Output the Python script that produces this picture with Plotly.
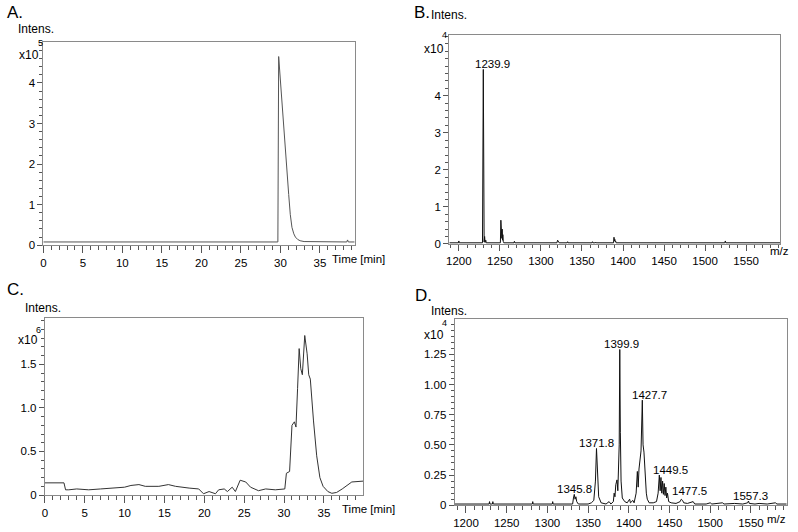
import plotly.graph_objects as go

W, H = 798, 532

# Panel A - chromatogram, intensity x10^5
a_time = [0.0, 29.68, 29.78, 30.0, 30.2, 30.4, 30.6, 30.8, 31.05, 31.25,
          31.46, 31.7, 31.9, 32.2, 32.5, 33.0, 36.0, 38.4, 38.5, 38.6, 39.4]
a_intens = [0.08, 0.08, 4.65, 4.02, 3.45, 2.96, 2.39, 1.82, 1.25, 0.76,
            0.44, 0.28, 0.20, 0.14, 0.11, 0.09, 0.08, 0.08, 0.13, 0.08, 0.08]

# Panel B - mass spectrum, intensity x10^4
b_mz = [1188.4, 1199.5, 1200.0, 1200.5, 1228.8, 1229.8, 1230.8, 1231.4, 1232.0,
        1232.8, 1233.4, 1250.6, 1251.2, 1251.6, 1252.0, 1252.4, 1252.8, 1253.2,
        1253.6, 1254.2, 1254.8, 1267.2, 1267.7, 1268.2, 1307.4, 1308.0, 1308.6,
        1319.5, 1320.3, 1321.0, 1321.6, 1322.2, 1332.0, 1332.5, 1333.0, 1358.2,
        1358.7, 1359.2, 1362.3, 1362.8, 1363.3, 1366.3, 1366.8, 1367.3, 1388.4,
        1389.0, 1389.6, 1390.1, 1390.6, 1391.1, 1391.6, 1455.2, 1455.8, 1456.4,
        1524.0, 1524.6, 1525.2, 1591.3]
b_intens = [0.03, 0.03, 0.08, 0.03, 0.03, 4.71, 0.05, 0.20, 0.04, 0.10,
            0.03, 0.03, 0.64, 0.20, 0.52, 0.15, 0.40, 0.10, 0.25, 0.06, 0.03,
            0.03, 0.07, 0.03, 0.03, 0.05, 0.03, 0.03, 0.10, 0.05, 0.07, 0.03,
            0.03, 0.06, 0.03, 0.03, 0.05, 0.03, 0.03, 0.06, 0.03, 0.03, 0.05,
            0.03, 0.03, 0.18, 0.08, 0.12, 0.05, 0.07, 0.03, 0.03, 0.05, 0.03,
            0.03, 0.08, 0.03, 0.03]
b_labels = ["1239.9"]
b_label_mz = [1229.8]
b_label_int = [4.71]

# Panel C - chromatogram, intensity x10^6
c_time = [0.0, 2.4, 2.6, 3.0, 4.0, 5.5, 7.0, 8.5, 10.0, 10.8, 11.8, 12.6,
          14.3, 15.5, 16.4, 18.1, 19.3, 19.9, 20.6, 21.4, 21.8, 22.5, 22.9,
          23.5, 23.9, 24.5, 25.2, 25.8, 26.8, 27.7, 28.9, 30.1, 30.3, 30.7,
          31.0, 31.3, 31.5, 31.7, 31.9, 32.1, 32.3, 32.6, 32.9, 33.1, 33.3,
          33.7, 34.1, 34.5, 34.9, 35.5, 36.0, 36.6, 37.3, 38.5, 39.95]
c_intens = [0.14, 0.14, 0.06, 0.06, 0.07, 0.06, 0.07, 0.08, 0.09, 0.11, 0.12, 0.10,
            0.10, 0.12, 0.10, 0.08, 0.07, 0.015, 0.04, 0.015, 0.06, 0.07, 0.04,
            0.09, 0.04, 0.17, 0.15, 0.09, 0.05, 0.07, 0.06, 0.07, 0.25, 0.27,
            0.80, 0.84, 0.78, 1.22, 1.68, 1.45, 1.38, 1.83, 1.62, 1.38, 1.33,
            0.85, 0.45, 0.20, 0.10, 0.04, 0.02, 0.03, 0.07, 0.15, 0.16]

# Panel D - mass spectrum, intensity x10^4
d_mz = [1186.0, 1228.4, 1228.9, 1229.4, 1232.5, 1233.0, 1233.5, 1281.5, 1282.0,
        1282.5, 1306.0, 1306.5, 1307.0, 1331.0, 1332.0, 1333.0, 1334.0, 1335.0,
        1336.0, 1338.0, 1350.0, 1354.0, 1357.0, 1359.0, 1360.3, 1361.5, 1363.0,
        1366.0, 1372.0, 1375.8, 1378.0, 1381.0, 1382.0, 1383.0, 1384.0, 1385.5,
        1386.5, 1388.2, 1388.9, 1389.6, 1390.5, 1392.0, 1395.0, 1398.0, 1401.0,
        1402.0, 1405.0, 1406.5, 1409.0, 1410.5, 1411.5, 1412.5, 1413.7, 1415.0,
        1416.6, 1417.5, 1418.6, 1419.6, 1420.6, 1421.5, 1422.7, 1425.0, 1430.0,
        1434.0, 1436.0, 1437.5, 1438.5, 1439.5, 1440.5, 1441.5, 1442.5, 1443.5,
        1444.5, 1445.5, 1446.5, 1447.5, 1449.0, 1452.0, 1458.0, 1463.0, 1464.5,
        1466.0, 1467.5, 1472.0, 1479.0, 1481.0, 1495.0, 1500.0, 1502.0, 1515.0,
        1517.0, 1530.0, 1540.0, 1546.0, 1547.0, 1548.0, 1555.0, 1560.0, 1570.0,
        1580.0, 1582.0, 1594.0]
d_intens = [0.01, 0.01, 0.03, 0.01, 0.01, 0.03, 0.01, 0.01, 0.03,
            0.01, 0.01, 0.03, 0.01, 0.01, 0.06, 0.09, 0.05, 0.07,
            0.03, 0.01, 0.01, 0.02, 0.04, 0.20, 0.47, 0.20, 0.07,
            0.02, 0.01, 0.03, 0.01, 0.03, 0.10, 0.07, 0.17, 0.21,
            0.12, 0.50, 1.29, 0.60, 0.20, 0.06, 0.03, 0.02, 0.05,
            0.02, 0.04, 0.02, 0.10, 0.28, 0.15, 0.30, 0.39, 0.45,
            0.87, 0.50, 0.44, 0.30, 0.20, 0.10, 0.05, 0.02, 0.02,
            0.03, 0.10, 0.25, 0.12, 0.23, 0.10, 0.20, 0.09, 0.18,
            0.08, 0.15, 0.06, 0.10, 0.03, 0.02, 0.015, 0.03, 0.05,
            0.04, 0.02, 0.015, 0.03, 0.01, 0.01, 0.02, 0.01, 0.02,
            0.01, 0.015, 0.01, 0.02, 0.035, 0.015, 0.01, 0.015, 0.01,
            0.02, 0.01, 0.01]
d_labels = ["1345.8", "1371.8", "1399.9", "1427.7", "1449.5", "1477.5", "1557.3"]
d_label_mz = [1333.0, 1360.3, 1388.9, 1416.6, 1437.5, 1464.5, 1547.0]
d_label_int = [0.09, 0.47, 1.29, 0.87, 0.25, 0.05, 0.035]

time_ticks = [0, 5, 10, 15, 20, 25, 30, 35]
mz_ticks = [1200, 1250, 1300, 1350, 1400, 1450, 1500, 1550]

FONT = "Liberation Sans, Arial, Helvetica, sans-serif"
BOX = "#8a8a8a"
TICK = "#555555"


def px(x):
    return x / W


def py(y):
    return 1 - y / H


def axis(domain, rng, tickvals, anchor, ticktext=None, minor=None, ticklen=5):
    d = dict(
        domain=domain, range=rng, anchor=anchor, showline=True, mirror=True,
        linecolor=BOX, linewidth=1, ticks="outside", ticklen=ticklen, tickwidth=1,
        tickcolor=TICK, showgrid=False, zeroline=False, tickmode="array",
        tickvals=tickvals,
        tickfont=dict(size=11.5, color="black", family=FONT), fixedrange=True,
    )
    if ticktext is not None:
        d["ticktext"] = ticktext
    if minor is not None:
        d["minor"] = dict(ticks="outside", ticklen=max(3, ticklen - 3),
                          tickcolor=TICK, tickmode="linear", tick0=0, dtick=minor,
                          showgrid=False)
    return d


fig = go.Figure()
fig.add_trace(go.Scatter(x=a_time, y=a_intens, xaxis="x", yaxis="y", mode="lines",
                         line=dict(color="#555555", width=1)))
fig.add_trace(go.Scatter(x=b_mz, y=b_intens, xaxis="x2", yaxis="y2", mode="lines",
                         line=dict(color="#111111", width=1)))
fig.add_trace(go.Scatter(x=c_time, y=c_intens, xaxis="x3", yaxis="y3", mode="lines",
                         line=dict(color="#333333", width=1)))
fig.add_trace(go.Scatter(x=d_mz, y=d_intens, xaxis="x4", yaxis="y4", mode="lines",
                         line=dict(color="#111111", width=1)))

fig.update_layout(
    width=W, height=H, margin=dict(l=0, r=0, t=0, b=0),
    paper_bgcolor="white", plot_bgcolor="white", showlegend=False,
    font=dict(family=FONT, size=11.5, color="black"),
    xaxis=axis([px(40.5), px(353)], [0, 39.4], time_ticks, "y", minor=1, ticklen=7),
    yaxis=axis([py(248), py(42)], [0, 5.02], [0, 1, 2, 3, 4], "x", minor=0.2),
    xaxis2=axis([px(448), px(780)], [1188.4, 1591.3], mz_ticks, "y2", minor=10,
                ticklen=6),
    yaxis2=axis([py(246.7), py(35)], [0, 5.65], [0, 1, 2, 3, 4], "x2", minor=0.2),
    xaxis3=axis([px(42), px(361.7)], [0, 39.95], time_ticks, "y3", minor=1,
                ticklen=7),
    yaxis3=axis([py(500.7), py(321.7)], [0, 2.03], [0, 0.5, 1.0, 1.5], "x3",
                ["0", "0.5", "1.0", "1.5"], minor=0.1),
    xaxis4=axis([px(453.3), px(786.7)], [1186, 1594], mz_ticks, "y4", minor=10,
                ticklen=7),
    yaxis4=axis([py(511), py(322.3)], [0, 1.545], [0, 0.25, 0.5, 0.75, 1.0, 1.25],
                "x4", ["0", "0.25", "0.50", "0.75", "1.00", "1.25"], minor=0.05),
)


def text(x, y, s, size=11.5, xanchor="left"):
    fig.add_annotation(x=px(x), y=py(y), xref="paper", yref="paper", text=s,
                       showarrow=False, xanchor=xanchor, yanchor="middle",
                       font=dict(size=size, color="black", family=FONT))


# panel letters
text(2, 13, "A.", 17)
text(411, 13, "B.", 17)
text(2, 293, "C.", 17)
text(412, 299, "D.", 17)
# intensity labels with exponent
for (ix, iy), (mx, my), (ex, ey), e in [
    ((13, 29), (14, 56), (38, 43), "5"),
    ((428, 15), (421, 50), (443, 35), "4"),
    ((20, 312), (13, 344), (36, 334), "6"),
    ((428, 315), (421, 339), (443.5, 327), "4"),
]:
    text(ix, iy, "Intens.", 12)
    text(mx, my, "x10", 12)
    text(ex, ey, e, 9, xanchor="center")
# x axis titles
text(328, 262, "Time [min]", 11.5)
text(338, 515, "Time [min]", 11.5)
text(791, 254, "m/z", 11.5, xanchor="right")
text(788, 525, "m/z", 11.5, xanchor="right")

# peak labels
b_shift = [9]
for s, mz, v, sh in zip(b_labels, b_label_mz, b_label_int, b_shift):
    fig.add_annotation(x=mz, y=v, xref="x2", yref="y2", text=s, showarrow=False,
                       xanchor="center", yanchor="bottom", xshift=sh, yshift=-3,
                       font=dict(size=11.5, color="black", family=FONT))
d_shift = [0, 0, 2, 7, 11, 8, 2]
d_yshift = [-3, -3, -3, -3, -3, 0, -3]
for s, mz, v, sh, ys in zip(d_labels, d_label_mz, d_label_int, d_shift, d_yshift):
    fig.add_annotation(x=mz, y=v, xref="x4", yref="y4", text=s, showarrow=False,
                       xanchor="center", yanchor="bottom", xshift=sh, yshift=ys,
                       font=dict(size=11.5, color="black", family=FONT))

fig.write_html("out.html", config={"displayModeBar": False},
               post_script="document.body.style.margin='0';")
